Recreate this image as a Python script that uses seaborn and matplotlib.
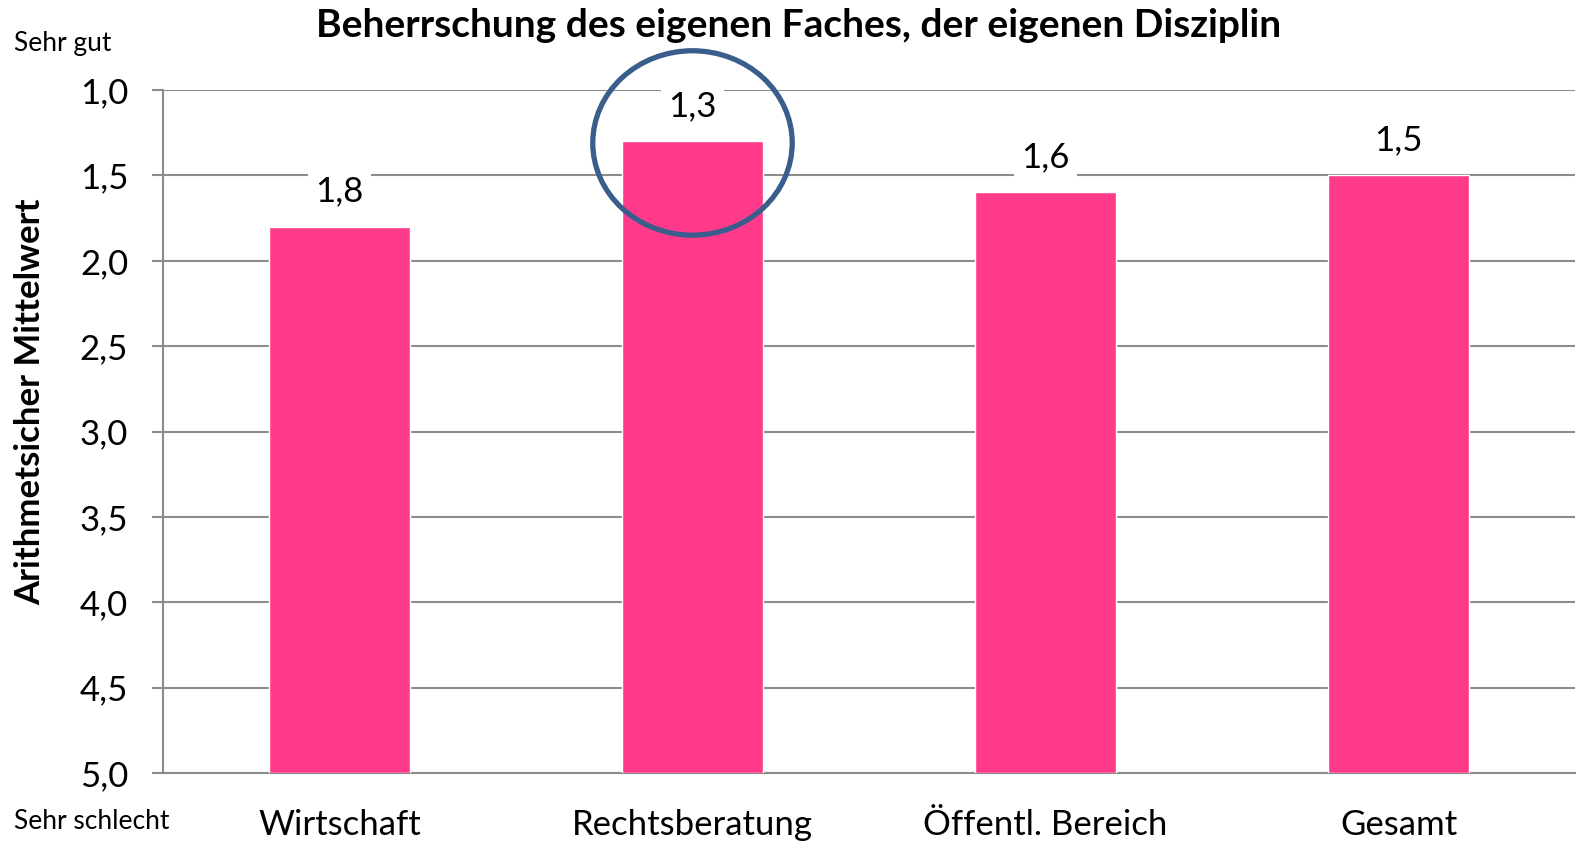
import numpy as np
import pandas as pd
import seaborn as sns
import matplotlib.pyplot as plt
from matplotlib.patches import Ellipse

# data
categories = ["Wirtschaft", "Rechtsberatung", "Öffentl. Bereich", "Gesamt"]
means = [1.8, 1.3, 1.6, 1.5]
y_ticks = [1.0, 1.5, 2.0, 2.5, 3.0, 3.5, 4.0, 4.5, 5.0]
highlight = "Rechtsberatung"
worst = 5.0  # scale end "Sehr schlecht", bars grow from here

df = pd.DataFrame({"Bereich": categories, "Mittelwert": means})

sns.set_theme(style="white", rc={"text.color": "black", "axes.labelcolor": "black",
                                 "xtick.color": "black", "ytick.color": "black"})
plt.rcParams["font.family"] = ["Lato", "DejaVu Sans"]

fig = plt.figure(figsize=(15.76, 8.43), dpi=100)
ax = fig.add_axes([0.1034, 0.083, 0.8960, 0.8102])

sns.barplot(data=df, x="Bereich", y="Mittelwert", color="#FF3A8A",
            saturation=1, width=0.4, ax=ax, zorder=3)

# bars start at the bottom of the reversed scale
for p in ax.patches:
    h = p.get_height()
    p.set_y(worst)
    p.set_height(h - worst)

ax.set_xlim(-0.5, len(categories) - 0.5)
ax.set_ylim(worst, 1.0)
ax.set_yticks(y_ticks)
ax.set_yticklabels([f"{v:.1f}".replace(".", ",") for v in y_ticks], fontsize=25)
ax.yaxis.grid(True, color="#8c8c8c", linewidth=1.5, zorder=0)
ax.set_axisbelow(True)

ax.set_xticks(range(len(categories)))
ax.set_xticklabels(categories, fontsize=25)
ax.tick_params(axis="x", which="major", length=0, pad=26, labelcolor="black")
ax.set_xticks(np.arange(-0.5, len(categories), 1.0), minor=True)
ax.tick_params(axis="x", which="minor", length=9, width=1.5, color="#8c8c8c", direction="out")
ax.tick_params(axis="y", length=8, width=1.5, color="#8c8c8c", labelcolor="black",
               direction="out", left=True, pad=17)

for s in ["top", "right"]:
    ax.spines[s].set_visible(False)
for s in ["left", "bottom"]:
    ax.spines[s].set_color("#8c8c8c")
    ax.spines[s].set_linewidth(1.5)

ax.set_xlabel("")
ax.set_ylabel("Arithmetsicher Mittelwert", fontsize=25, fontweight="bold", va="center",
              color="black")
ax.yaxis.set_label_coords(-0.094, 0.543)

# value labels above bars
for i, v in enumerate(means):
    ax.annotate(f"{v:.1f}".replace(".", ","), (i, v), xytext=(0, 14),
                textcoords="offset points", ha="center", va="bottom", fontsize=25,
                color="black",
                bbox=dict(facecolor="white", edgecolor="none", pad=5), zorder=4)

# highlight circle
hi = categories.index(highlight)
circ = Ellipse((hi, means[hi] + 0.01), width=0.565, height=1.08, fill=False,
               edgecolor="#3A5E8C", linewidth=3.8, zorder=5, clip_on=False)
ax.add_patch(circ)

fig.suptitle("Beherrschung des eigenen Faches, der eigenen Disziplin",
             x=0.507, y=0.970, va="center", fontsize=28, fontweight="bold", color="black")
fig.text(0.009, 0.948, "Sehr gut", fontsize=19, va="center", color="black")
fig.text(0.009, 0.025, "Sehr schlecht", fontsize=19, va="center", color="black")

fig.savefig("out.png", dpi=100)
